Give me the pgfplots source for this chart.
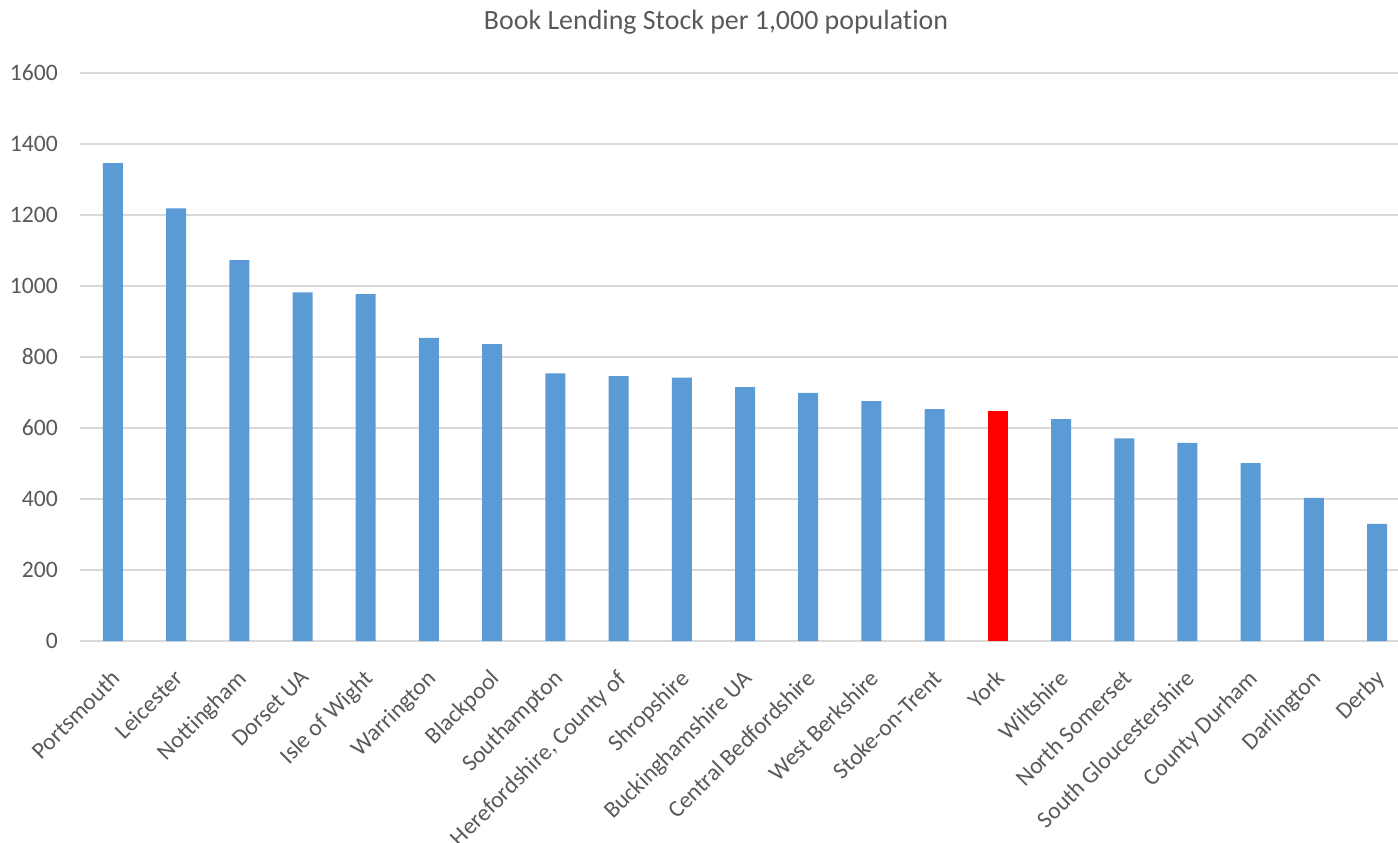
\documentclass[border=0pt]{standalone}
\usepackage{pgfplots}
\pgfplotsset{compat=1.18}
\usepackage{fontspec}
\setmainfont[Ligatures=NoCommon]{Carlito}
\definecolor{barblue}{HTML}{5B9BD5}
\definecolor{txt}{HTML}{595959}
\definecolor{gridc}{HTML}{D9D9D9}
\begin{document}
\begin{tikzpicture}
\useasboundingbox (-80pt,-202pt) rectangle (1318pt,641pt);
\begin{axis}[
  at={(0,0)}, anchor=south west,
  scale only axis, width=1318pt, height=568pt,
  xmin=-0.52, xmax=20.33, ymin=0, ymax=1600,
  ybar, bar width=20pt,
  ytick={0,200,...,1600},
  xtick={0,...,20},
  xticklabels={Portsmouth,Leicester,Nottingham,Dorset UA,Isle of Wight,Warrington,Blackpool,Southampton,{Herefordshire, County of},Shropshire,Buckinghamshire UA,Central Bedfordshire,West Berkshire,Stoke-on-Trent,York,Wiltshire,North Somerset,South Gloucestershire,County Durham,Darlington,Derby},
  ymajorgrids, major grid style={draw=gridc, line width=1.5pt},
  axis line style={draw=none},
  tick style={draw=none},
  /pgf/number format/assume math mode=true,
  /pgf/number format/1000 sep={},
  tick label style={font=\fontsize{23.6}{28}\selectfont, text=txt},
  yticklabel style={anchor=east, inner sep=0pt, xshift=-22pt},
  xticklabel style={inner sep=0pt, xshift=-3pt, yshift=-23pt, rotate=45, anchor=north east},
]
\addplot[fill=barblue, draw=none, bar shift=0pt] coordinates {
 (0,1346) (1,1219) (2,1073) (3,982) (4,977) (5,854) (6,836) (7,754) (8,746) (9,742)
 (10,715) (11,699) (12,676) (13,653) (15,625) (16,571) (17,558) (18,501) (19,403) (20,330)
};
\addplot[fill=red, draw=none, bar shift=0pt] coordinates {(14,648)};
\end{axis}
\node[font=\fontsize{27.9}{33}\selectfont, text=txt] at (636pt,619pt) {Book Lending Stock per 1,000 population};
\end{tikzpicture}
\end{document}
